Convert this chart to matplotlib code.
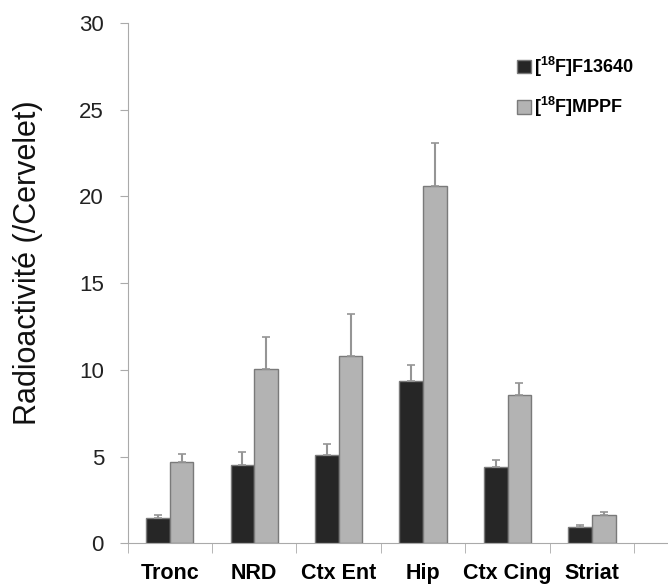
import matplotlib
matplotlib.use("Agg")
import matplotlib.pyplot as plt
import numpy as np
from matplotlib.patches import Patch

plt.rcParams['font.family'] = ['Liberation Sans', 'DejaVu Sans']
plt.rcParams['mathtext.fontset'] = 'custom'
plt.rcParams['mathtext.bf'] = 'Liberation Sans:bold'
plt.rcParams['mathtext.rm'] = 'Liberation Sans:bold'

regions = ["Tronc", "NRD", "Ctx Ent", "Hip", "Ctx Cing", "Striat"]
f13640 = [1.46, 4.53, 5.12, 9.35, 4.38, 0.97]
f13640_err = [0.2, 0.76, 0.62, 0.95, 0.43, 0.12]
mppf = [4.67, 10.05, 10.8, 20.6, 8.56, 1.65]
mppf_err = [0.47, 1.87, 2.4, 2.45, 0.68, 0.18]

label1 = r'[$^{18}$F]F13640'
label2 = r'[$^{18}$F]MPPF'

x = np.arange(len(regions))
w = 0.28

fig = plt.figure(figsize=(6.68, 5.85), dpi=100)
ax = fig.add_axes([0.191, 0.071, 0.809, 0.89])

errkw = dict(ecolor='#959595', elinewidth=1.5, capsize=3, capthick=1.2)
ax.bar(x - w/2, f13640, w, color='#262626', edgecolor='#7a7a7a', linewidth=1,
       yerr=[np.zeros(len(x)), f13640_err], error_kw=errkw, zorder=3)
ax.bar(x + w/2, mppf, w, color='#b3b3b3', edgecolor='#7a7a7a', linewidth=1,
       yerr=[np.zeros(len(x)), mppf_err], error_kw=errkw, zorder=3)

ax.set_xlim(-0.5, 5.9)
ax.set_ylim(0, 30)
ax.set_yticks(range(0, 31, 5))
ax.tick_params(axis='y', labelsize=16, colors='#aaaaaa', labelcolor='#222222',
               length=6, direction='out', pad=11)
ax.set_xticks(x)
ax.set_xticklabels(regions, fontsize=15.5, fontweight='bold')
ax.tick_params(axis='x', which='major', length=0, pad=14)
ax.set_xticks(np.arange(-0.5, 6.0, 1.0), minor=True)
ax.tick_params(axis='x', which='minor', length=7, color='#aaaaaa')

for s in ['top', 'right']:
    ax.spines[s].set_visible(False)
for s in ['left', 'bottom']:
    ax.spines[s].set_color('#aaaaaa')

# y label sits higher than the axes centre in the original
fig.text(28 / 668, 1 - 263 / 585, 'Radioactivité (/Cervelet)', rotation=90,
         ha='center', va='center', fontsize=22, color='#111111')

handles = [Patch(facecolor='#262626', edgecolor='#7a7a7a', label=label1),
           Patch(facecolor='#b3b3b3', edgecolor='#7a7a7a', label=label2)]
leg = ax.legend(handles=handles, loc='upper left', bbox_to_anchor=(0.69, 0.97),
                frameon=False, handlelength=0.8, handleheight=0.8, handletextpad=0.15,
                labelspacing=0.9, prop={'weight': 'bold', 'size': 13})

fig.savefig('out.png', dpi=100)
